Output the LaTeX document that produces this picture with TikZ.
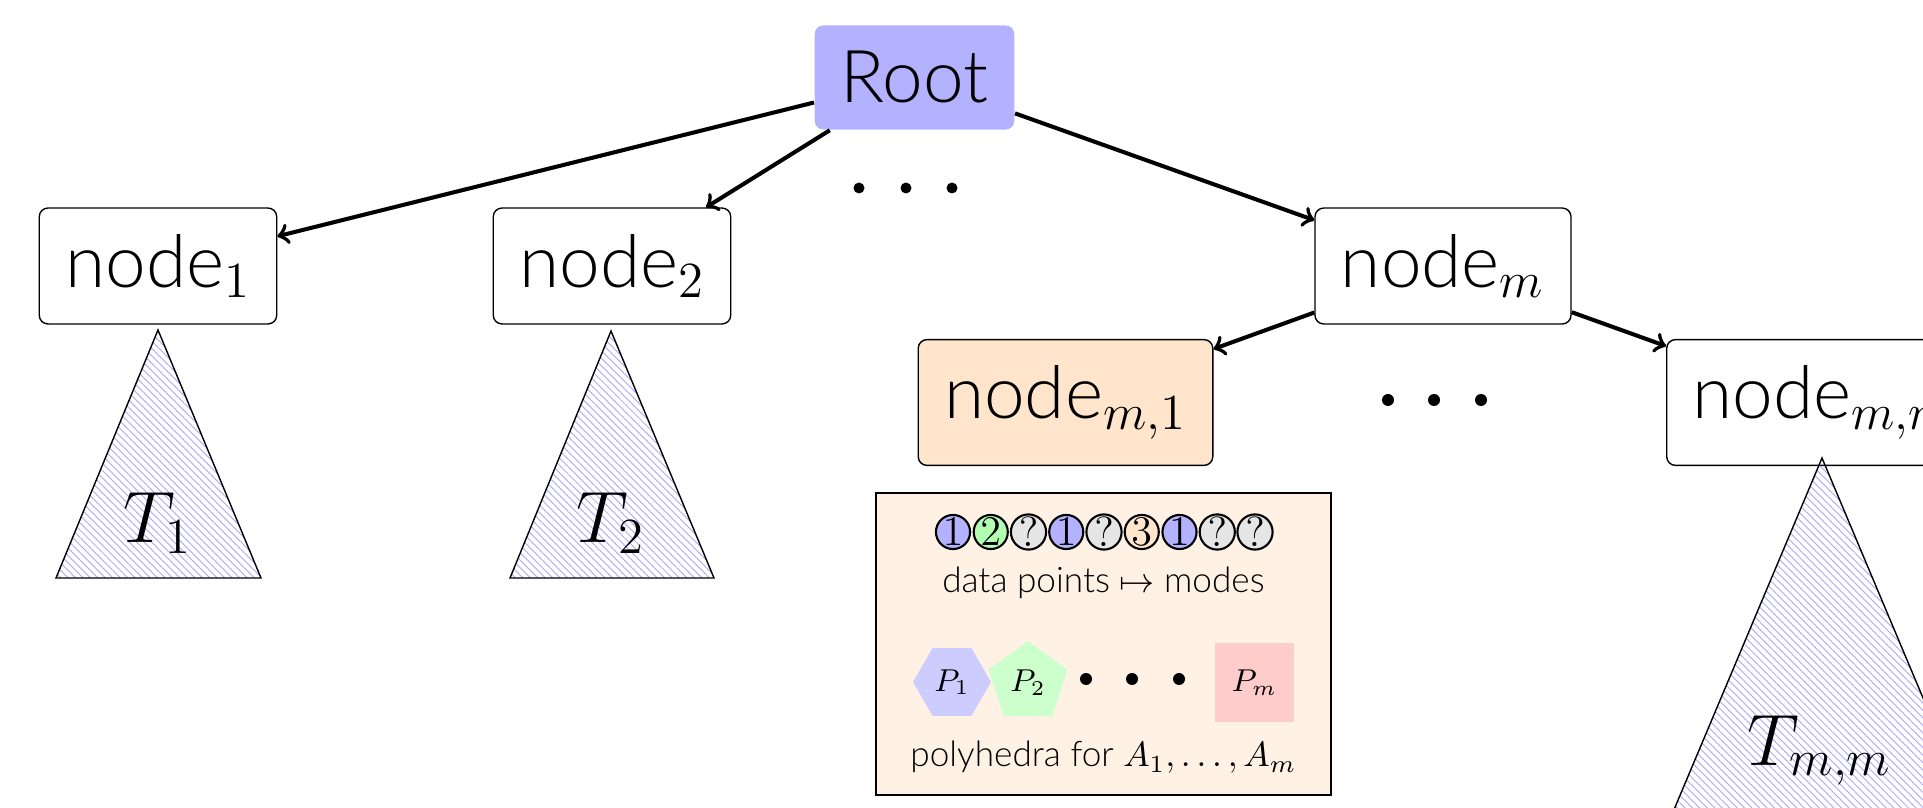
\documentclass[tikz,border=0pt]{standalone}
\usepackage{fontspec}
\setmainfont{Lato Light}
\usetikzlibrary{shapes.geometric,patterns.meta}

\tikzset{
  treenode/.style={draw, line width=0.4pt, rounded corners=2.5pt, inner sep=0.26cm, font=\huge},
  link/.style={->, line width=1.15pt},
  subtree/.style={draw, line width=0.4pt, pattern={Lines[angle=-45,distance=1.5pt,line width=0.25pt]}, pattern color=blue!35},
  mode/.style={circle, draw, semithick, minimum size=0.31cm, inner sep=0pt, font=\large},
  poly/.style={inner sep=0pt, font=\small}
}

\begin{document}
\begin{tikzpicture}[x=0.1mm, y=-0.1mm]
  \clip (0,0) rectangle (1923,808);

  % tree
  \node[treenode, draw=none, fill=blue!30] (root) at (914.5,77.5) {Root};
  \node[treenode] (n1) at (158,266) {node$_1$};
  \node[treenode] (n2) at (612,266) {node$_2$};
  \node[treenode] (nm) at (1443,266) {node$_m$};
  \node[treenode, fill=orange!20] (nm1) at (1065.5,402.5) {node$_{m,1}$};
  \node[treenode, anchor=west] (nmm) at (1666,402.5) {node$_{m,m}$};

  \draw[link] (root) -- (n1);
  \draw[link] (root) -- (n2);
  \draw[link] (root) -- (nm);
  \draw[link] (nm) -- (nm1);
  \draw[link] (nm) -- (nmm);

  \foreach \x in {859,906,952}
    \fill (\x,188) circle (0.55mm);
  \foreach \x in {1388,1434,1481}
    \fill (\x,400) circle (0.6mm);

  % subtrees
  \draw[subtree] (158,330) -- (56,578) -- (261,578) -- cycle;
  \node[font=\huge, anchor=base] (t1) at (158,543) {$T_1$};
  \draw[subtree] (611,331) -- (510,578) -- (714,578) -- cycle;
  \node[font=\huge, anchor=base] (t2) at (611,543) {$T_2$};
  \draw[subtree] (1822,458) -- (1657,850) -- (1987,850) -- cycle;
  \node[font=\huge, anchor=base] (tmm) at (1820,765) {$T_{m,m}$};

  % info about node m,1
  \node[draw, line width=0.4pt, fill=orange!10, minimum width=4.55cm, minimum height=3.02cm] (info) at (1103.5,644) {};
  \foreach \lab/\col [count=\i from 0] in {1/blue!30, 2/green!30, ?/black!10, 1/blue!30, ?/black!10, 3/orange!20, 1/blue!30, ?/black!10, ?/black!10}
    \node[mode, fill=\col] (pt\i) at ({953+37.75*\i},532) {$\lab$};
  \node[anchor=base] (modes) at (1103.5,593) {data points $\mapsto$ modes};

  \node[poly, regular polygon, regular polygon sides=6, minimum size=0.78cm, fill=blue!20] (p1) at (952,682) {$P_1$};
  \node[poly, regular polygon, regular polygon sides=5, minimum size=0.83cm, fill=green!20] (p2) at (1028,682.5) {$P_2$};
  \foreach \x in {1086,1132,1179}
    \fill (\x,679) circle (0.6mm);
  \node[poly, minimum size=0.79cm, fill=red!20] (pm) at (1254.5,682.5) {$P_m$};
  \node[anchor=base] (polys) at (1103.5,767) {polyhedra for $A_1,\ldots,A_m$};
\end{tikzpicture}
\end{document}
